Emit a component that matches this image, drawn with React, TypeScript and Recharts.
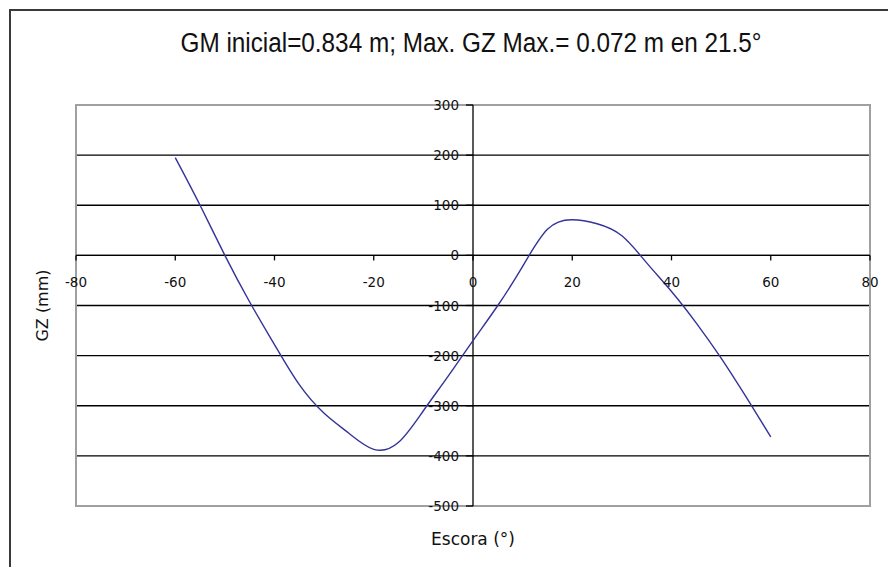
import React from "react";
import { LineChart, Line, XAxis, YAxis, CartesianGrid, ReferenceLine, ReferenceArea } from "recharts";

const escora = [-60, -55, -50, -45, -40, -35, -30, -25, -20, -15, -10, -5, 0, 5, 10, 15, 20, 25, 30, 35, 40, 45, 50, 55, 60];
const gz = [195, 100, 0, -93, -178, -258, -315, -355, -387, -373, -310, -241, -170, -100, -22, 52, 71, 63, 39, -15, -72, -135, -205, -282, -362];

const xTicks = [-80, -60, -40, -20, 0, 20, 40, 60, 80];
const yTicks = [300, 200, 100, 0, -100, -200, -300, -400, -500];

const title = "GM inicial=0.834 m; Max. GZ Max.= 0.072 m en 21.5°";

const data = escora.map((e, i) => ({ escora: e, gz: gz[i] }));

const W = 888;
const H = 567;
const AX = 20; // room given to the axes (ticks are drawn at the zero lines)
const M = { top: 105, right: 18, bottom: 61 - AX, left: 76 - AX };
const PW = W - 76 - M.right;
const PH = H - M.top - 61;
// axes cross at 0 / 0
const ZERO_X = 76 + PW * (80 / 160);
const ZERO_Y = M.top + PH * (300 / 800);

const tickFont = "DejaVu Sans, sans-serif";

function XTick(props: any) {
  const { x, payload } = props;
  return (
    <g>
      <line x1={x} x2={x} y1={ZERO_Y} y2={ZERO_Y + 5} stroke="#000" strokeWidth={1.3} />
      <text x={x} y={ZERO_Y + 32} textAnchor="middle" fontSize={13.5} fontFamily={tickFont} fill="#111">
        {payload.value}
      </text>
    </g>
  );
}

function YTick(props: any) {
  const { y, payload } = props;
  return (
    <g>
      <line x1={ZERO_X - 7} x2={ZERO_X} y1={y} y2={y} stroke="#000" strokeWidth={1.3} />
      <text x={ZERO_X - 14} y={y + 5} textAnchor="end" fontSize={13.5} fontFamily={tickFont} fill="#111">
        {payload.value}
      </text>
    </g>
  );
}

export default function App() {
  return (
    <div style={{ position: "fixed", left: 0, top: 0, width: W, height: H, overflow: "hidden", background: "#fff" }}>
      <div
        style={{
          position: "absolute",
          left: 9,
          top: 9,
          width: 1000,
          height: 1000,
          borderLeft: "2px solid #3a3a3a",
          borderTop: "2px solid #3a3a3a",
        }}
      />
      <div
        style={{
          position: "absolute",
          left: 0,
          width: 942,
          top: 28,
          textAlign: "center",
          fontFamily: "'Liberation Sans', Arial, sans-serif",
          fontSize: 27,
          color: "#111",
          transform: "scaleX(0.9)",
          transformOrigin: "471px 0",
        }}
      >
        {title}
      </div>
      <div style={{ position: "absolute", left: 0, top: 0 }}>
        <LineChart width={W} height={H} data={data} margin={M}>
          <CartesianGrid vertical={false} stroke="#000" strokeWidth={1.3} />
          <ReferenceArea x1={-80} x2={80} y1={-500} y2={300} fill="none" stroke="#a0a0a0" strokeWidth={2} />
          <ReferenceLine x={0} stroke="#000" strokeWidth={1.3} />
          <ReferenceLine y={0} stroke="#000" strokeWidth={1.3} />
          <XAxis
            dataKey="escora"
            type="number"
            domain={[-80, 80]}
            ticks={xTicks}
            height={AX}
            axisLine={false}
            tickLine={false}
            tick={(p: any) => <XTick {...p} />}
            interval={0}
          />
          <YAxis
            type="number"
            domain={[-500, 300]}
            ticks={yTicks}
            width={AX}
            axisLine={false}
            tickLine={false}
            tick={(p: any) => <YTick {...p} />}
            interval={0}
          />
          <Line
            dataKey="gz"
            type="natural"
            stroke="#33339a"
            strokeWidth={1.4}
            dot={false}
            isAnimationActive={false}
          />
        </LineChart>
      </div>
      <div
        style={{
          position: "absolute",
          left: ZERO_X - 100,
          width: 200,
          top: 529,
          textAlign: "center",
          fontFamily: tickFont,
          fontSize: 17,
          color: "#111",
        }}
      >
        Escora (°)
      </div>
      <div
        style={{
          position: "absolute",
          left: 42 - 60,
          top: M.top + PH / 2 - 10,
          width: 120,
          textAlign: "center",
          transform: "rotate(-90deg)",
          fontFamily: tickFont,
          fontSize: 16,
          color: "#111",
        }}
      >
        GZ (mm)
      </div>
    </div>
  );
}
